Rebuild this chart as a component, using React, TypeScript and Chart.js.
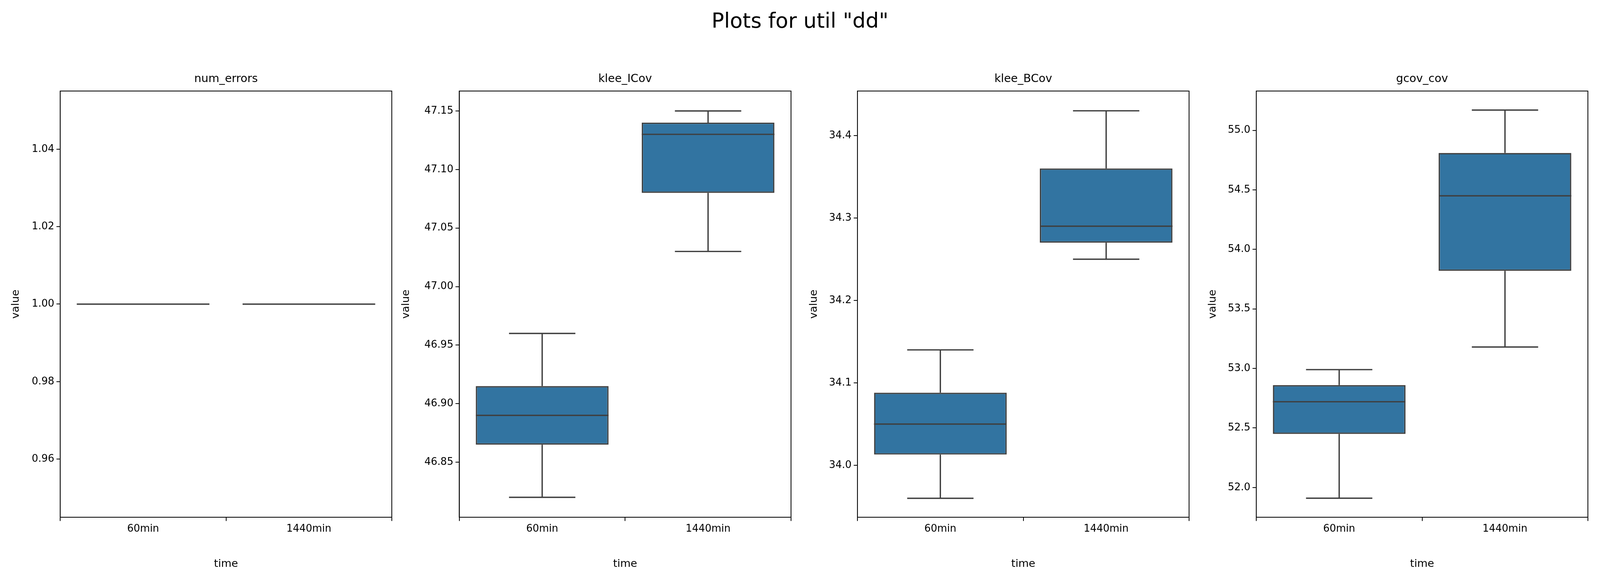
import { useEffect, useRef } from "react"
import { Chart, registerables } from "chart.js"

Chart.register(...registerables)

const categories = ["60min", "1440min"]

const panelTitles = ["num_errors", "klee_ICov", "klee_BCov", "gcov_cov"]
// per panel: [min, q1, median, q3, max] for each category
const numErrors = [
  [1.0, 1.0, 1.0, 1.0, 1.0],
  [1.0, 1.0, 1.0, 1.0, 1.0],
]
const kleeICov = [
  [46.82, 46.865, 46.89, 46.915, 46.96],
  [47.03, 47.08, 47.13, 47.14, 47.15],
]
const kleeBCov = [
  [33.96, 34.013, 34.05, 34.088, 34.14],
  [34.25, 34.27, 34.29, 34.36, 34.43],
]
const gcovCov = [
  [51.91, 52.45, 52.72, 52.86, 52.99],
  [53.18, 53.82, 54.45, 54.81, 55.17],
]
const yRanges = [
  [0.945, 1.055],
  [46.803, 47.167],
  [33.937, 34.454],
  [51.75, 55.33],
]
const yTicks = [
  [0.96, 0.98, 1.0, 1.02, 1.04],
  [46.85, 46.9, 46.95, 47.0, 47.05, 47.1, 47.15],
  [34.0, 34.1, 34.2, 34.3, 34.4],
  [52.0, 52.5, 53.0, 53.5, 54.0, 54.5, 55.0],
]
const tickDecimals = [2, 2, 1, 1]
const panelStats = [numErrors, kleeICov, kleeBCov, gcovCov]

// layout in a 6000x1500 frame, scaled to the actual window
const axLefts = [226, 1722, 3215, 4711]
const yAxisW = [195, 228, 192, 192]
const AX_W = 1244
const AX_TOP = 233
const AX_H = 1091
const X_AXIS_H = 140
const TOP_PAD = 70
const FONT = "'DejaVu Sans', sans-serif"
const EDGE = "#3f3f3f"

function frame() {
  const sx = (window.innerWidth || 6000) / 6000
  const sy = (window.innerHeight || 1500) / 1500
  return { sx, sy, s: Math.min(sx, sy) }
}

function BoxPanel({ idx }: { idx: number }) {
  const ref = useRef<HTMLCanvasElement>(null)
  const { sx, sy, s } = frame()
  const yw = yAxisW[idx] * sx
  const w = Math.round(yw + AX_W * sx + 4)
  const h = Math.round((TOP_PAD + AX_H + X_AXIS_H) * sy)

  useEffect(() => {
    if (!ref.current) return
    const stats = panelStats[idx]
    const boxPlugin = {
      id: "boxExtras",
      afterDatasetsDraw(chart: any) {
        const { ctx, chartArea } = chart
        const y = chart.scales.y
        const meta = chart.getDatasetMeta(0)
        ctx.save()
        ctx.strokeStyle = EDGE
        ctx.lineWidth = 5 * s
        stats.forEach((st, i) => {
          const bar = meta.data[i]
          const cx = bar.x
          const half = bar.width / 2
          const [mn, q1, med, q3, mx] = st.map((v) => y.getPixelForValue(v))
          ctx.beginPath()
          ctx.moveTo(cx, q1)
          ctx.lineTo(cx, mn)
          ctx.moveTo(cx, q3)
          ctx.lineTo(cx, mx)
          ctx.moveTo(cx - half / 2, mn)
          ctx.lineTo(cx + half / 2, mn)
          ctx.moveTo(cx - half / 2, mx)
          ctx.lineTo(cx + half / 2, mx)
          ctx.moveTo(cx - half, med)
          ctx.lineTo(cx + half, med)
          ctx.stroke()
        })
        ctx.strokeStyle = "#000"
        ctx.lineWidth = 3 * s
        ctx.strokeRect(chartArea.left, chartArea.top, chartArea.right - chartArea.left, chartArea.bottom - chartArea.top)
        ctx.fillStyle = "#000"
        ctx.font = `${42 * s}px ${FONT}`
        ctx.textAlign = "center"
        ctx.textBaseline = "bottom"
        ctx.fillText(panelTitles[idx], (chartArea.left + chartArea.right) / 2, chartArea.top - 16 * sy)
        ctx.restore()
      },
    }
    const chart = new Chart(ref.current, {
      type: "bar",
      data: {
        labels: categories,
        datasets: [
          {
            data: stats.map((st) => [st[1], st[3]]) as any,
            backgroundColor: "#3274a1",
            borderColor: EDGE,
            borderWidth: 5 * s,
            borderSkipped: false,
            barPercentage: 0.8,
            categoryPercentage: 1,
          },
        ],
      },
      options: {
        animation: false,
        responsive: false,
        devicePixelRatio: 1,
        layout: { padding: { top: TOP_PAD * sy, right: 4, left: 0, bottom: 0 } },
        plugins: { legend: { display: false }, tooltip: { enabled: false } },
        scales: {
          x: {
            grid: { drawOnChartArea: false, drawTicks: true, tickLength: 14 * s, color: "#000", lineWidth: 3 * s },
            border: { display: true, color: "#000", width: 3 * s },
            ticks: { color: "#000", font: { family: FONT, size: 38 * s }, padding: 8 * s },
            title: { display: true, text: "time", color: "#000", font: { family: FONT, size: 40 * s }, padding: { top: 4 * s } },
            afterFit(scale: any) {
              scale.height = X_AXIS_H * sy
            },
          },
          y: {
            min: yRanges[idx][0],
            max: yRanges[idx][1],
            grid: { drawOnChartArea: false, drawTicks: true, tickLength: 14 * s, color: "#000", lineWidth: 3 * s },
            border: { display: true, color: "#000", width: 3 * s },
            ticks: {
              color: "#000",
              font: { family: FONT, size: 38 * s },
              padding: 8 * s,
              callback: (v: any) => Number(v).toFixed(tickDecimals[idx]),
            },
            afterBuildTicks(scale: any) {
              scale.ticks = yTicks[idx].map((v) => ({ value: v }))
            },
            title: { display: true, text: "value", color: "#000", font: { family: FONT, size: 40 * s }, padding: { bottom: 8 * s } },
            afterFit(scale: any) {
              scale.width = yw
            },
          },
        },
      },
      plugins: [boxPlugin],
    })
    return () => chart.destroy()
  }, [idx])

  return (
    <div style={{ position: "absolute", left: axLefts[idx] * sx - yw, top: (AX_TOP - TOP_PAD) * sy, width: w, height: h }}>
      <canvas ref={ref} width={w} height={h} style={{ width: w, height: h }} />
    </div>
  )
}

export default function App() {
  const { sx, sy, s } = frame()
  return (
    <div style={{ position: "fixed", left: 0, top: 0, width: 6000 * sx, height: 1500 * sy, background: "#fff", fontFamily: FONT }}>
      <div style={{ position: "absolute", top: 22 * sy, width: 6000 * sx, textAlign: "center", fontSize: 78 * s, color: "#000" }}>
        Plots for util "dd"
      </div>
      {panelTitles.map((_, i) => (
        <BoxPanel key={i} idx={i} />
      ))}
    </div>
  )
}
